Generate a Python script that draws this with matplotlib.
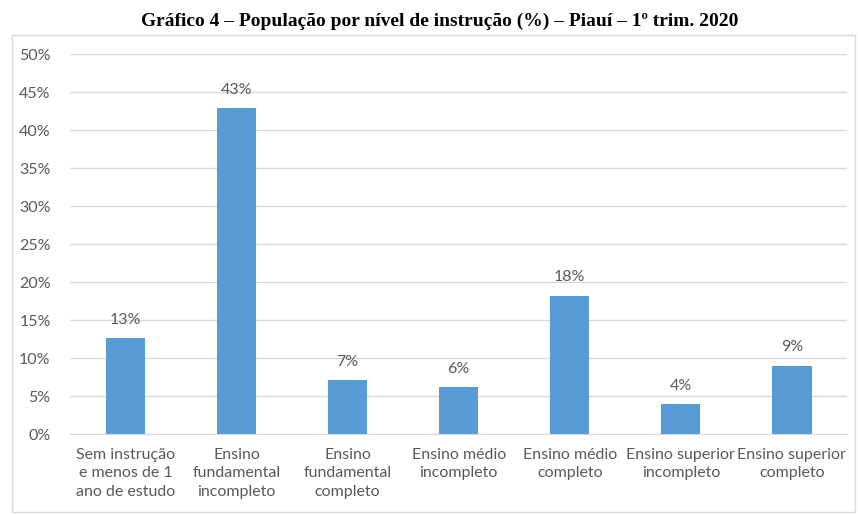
import matplotlib
matplotlib.use('Agg')
import matplotlib.pyplot as plt
from matplotlib.patches import Rectangle
from matplotlib.ticker import FuncFormatter

plt.rcParams['font.family'] = ['Lato', 'DejaVu Sans']

BAR_BLUE = '#5B9BD5'
TEXT_GRAY = '#595959'
GRID_GRAY = '#D9D9D9'

categorias = [
    'Sem instrução\ne menos de 1\nano de estudo',
    'Ensino\nfundamental\nincompleto',
    'Ensino\nfundamental\ncompleto',
    'Ensino médio\nincompleto',
    'Ensino médio\ncompleto',
    'Ensino superior\nincompleto',
    'Ensino superior\ncompleto',
]
valores = [12.6, 42.9, 7.1, 6.2, 18.2, 3.9, 9.0]
rotulos = ['13%', '43%', '7%', '6%', '18%', '4%', '9%']
yticks = [0, 5, 10, 15, 20, 25, 30, 35, 40, 45, 50]

fig = plt.figure(figsize=(8.58, 5.15), dpi=100, facecolor='white')

# moldura do gráfico
fig.patches.append(Rectangle((0.014, 0.006), 0.982, 0.926, transform=fig.transFigure,
                             fill=False, edgecolor=GRID_GRAY, linewidth=1.0))

fig.text(0.512, 0.958, 'Gráfico 4 – População por nível de instrução (%) – Piauí – 1º trim. 2020',
         ha='center', va='center', fontsize=14, fontweight='bold',
         family=['Liberation Serif', 'DejaVu Serif'], color='black')

ax = fig.add_axes([0.0816, 0.157, 0.906, 0.738])
x = range(len(categorias))
ax.bar(x, valores, width=0.355, color=BAR_BLUE, zorder=3)

for xi, v, lab in zip(x, valores, rotulos):
    ax.text(xi, v + 1.5, lab, ha='center', va='bottom', fontsize=11.5, color=TEXT_GRAY)

ax.set_xlim(-0.5, len(categorias) - 0.5)
ax.set_ylim(0, 50)
ax.set_yticks(yticks)
ax.yaxis.set_major_formatter(FuncFormatter(lambda v, p: f'{v:.0f}%'))
ax.set_xticks(list(x))
ax.set_xticklabels(categorias, fontsize=11.5, color=TEXT_GRAY, linespacing=1.4)
ax.tick_params(axis='y', length=0, labelsize=11.5, labelcolor=TEXT_GRAY, pad=14)
ax.tick_params(axis='x', length=0, pad=10)
ax.grid(axis='y', color=GRID_GRAY, linewidth=1.0, zorder=0)
for s in ['top', 'right', 'left']:
    ax.spines[s].set_visible(False)
ax.spines['bottom'].set_color(GRID_GRAY)

fig.savefig('out.png', dpi=100, facecolor='white')
